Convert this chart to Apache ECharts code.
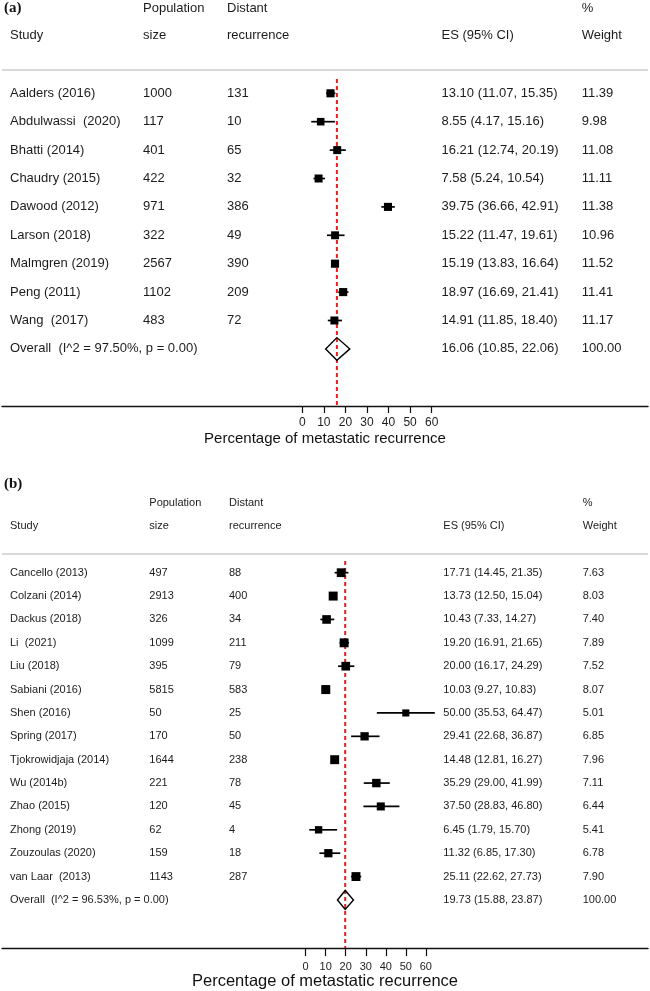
<!DOCTYPE html>
<html>
<head>
<meta charset="utf-8">
<script src="https://cdn.jsdelivr.net/npm/echarts@6/dist/echarts.min.js"></script>
<style>html,body{margin:0;padding:0;background:#fff}#c{width:650px;height:991px}</style>
</head>
<body>
<div id="c"></div>
<script>
// ---------- Panel (a) data ----------
const studiesA = ['Aalders (2016)', 'Abdulwassi  (2020)', 'Bhatti (2014)', 'Chaudry (2015)', 'Dawood (2012)', 'Larson (2018)', 'Malmgren (2019)', 'Peng (2011)', 'Wang  (2017)'];
const popA = [1000, 117, 401, 422, 971, 322, 2567, 1102, 483];
const distA = [131, 10, 65, 32, 386, 49, 390, 209, 72];
const esA = [13.10, 8.55, 16.21, 7.58, 39.75, 15.22, 15.19, 18.97, 14.91];
const loA = [11.07, 4.17, 12.74, 5.24, 36.66, 11.47, 13.83, 16.69, 11.85];
const hiA = [15.35, 15.16, 20.19, 10.54, 42.91, 19.61, 16.64, 21.41, 18.40];
const wtA = [11.39, 9.98, 11.08, 11.11, 11.38, 10.96, 11.52, 11.41, 11.17];
const overallLabelA = 'Overall  (I^2 = 97.50%, p = 0.00)';
const overallA = [16.06, 10.85, 22.06];

// ---------- Panel (b) data ----------
const studiesB = ['Cancello (2013)', 'Colzani (2014)', 'Dackus (2018)', 'Li  (2021)', 'Liu (2018)', 'Sabiani (2016)', 'Shen (2016)', 'Spring (2017)', 'Tjokrowidjaja (2014)', 'Wu (2014b)', 'Zhao (2015)', 'Zhong (2019)', 'Zouzoulas (2020)', 'van Laar  (2013)'];
const popB = [497, 2913, 326, 1099, 395, 5815, 50, 170, 1644, 221, 120, 62, 159, 1143];
const distB = [88, 400, 34, 211, 79, 583, 25, 50, 238, 78, 45, 4, 18, 287];
const esB = [17.71, 13.73, 10.43, 19.20, 20.00, 10.03, 50.00, 29.41, 14.48, 35.29, 37.50, 6.45, 11.32, 25.11];
const loB = [14.45, 12.50, 7.33, 16.91, 16.17, 9.27, 35.53, 22.68, 12.81, 29.00, 28.83, 1.79, 6.85, 22.62];
const hiB = [21.35, 15.04, 14.27, 21.65, 24.29, 10.83, 64.47, 36.87, 16.27, 41.99, 46.80, 15.70, 17.30, 27.73];
const wtB = [7.63, 8.03, 7.40, 7.89, 7.52, 8.07, 5.01, 6.85, 7.96, 7.11, 6.44, 5.41, 6.78, 7.90];
const overallLabelB = 'Overall  (I^2 = 96.53%, p = 0.00)';
const overallB = [19.73, 15.88, 23.87];

const tickValues = [0, 10, 20, 30, 40, 50, 60];
const axisTitle = 'Percentage of metastatic recurrence';
const headerRow1 = ['Population', 'Distant', '%'];
const headerRow2 = ['Study', 'size', 'recurrence', 'ES (95% CI)', 'Weight'];

// ---------- layout / style ----------
const FONT = '"Liberation Sans", Arial, Helvetica, sans-serif';
const SERIF = '"Liberation Serif", "Times New Roman", serif';
const TXT = '#1c1c1c';
const panels = [
  {
    studies: studiesA, pop: popA, dist: distA, es: esA, lo: loA, hi: hiA, wt: wtA,
    overallLabel: overallLabelA, overall: overallA,
    cols: [10, 143, 227, 441.5, 581.7], fs: 13, k: 2.4, dh: 11.3, ciW: 1.7,
    grid: { left: 2, width: 646, top: 8.1, height: 397.9 },
    xMin: -139.2, xMax: 160.3, yMin: -3, yMax: 11.011,
    tickLen: 7, labelFs: 12, labelMargin: 11, nameFs: 15, nameGap: 25,
    tag: '(a)', tagY: 8.5, h1Y: 8.5, h2Y: 35, sepY: 70
  },
  {
    studies: studiesB, pop: popB, dist: distB, es: esB, lo: loB, hi: hiB, wt: wtB,
    overallLabel: overallLabelB, overall: overallB,
    cols: [10, 149.3, 229, 443.3, 582.7], fs: 11, k: 3.17, dh: 9.5, ciW: 1.7,
    grid: { left: 2, width: 646, top: 479.2, height: 469.1 },
    xMin: -151.6, xMax: 170.9, yMin: -4, yMax: 16.06,
    tickLen: 8, labelFs: 11, labelMargin: 13, nameFs: 16.5, nameGap: 24,
    tag: '(b)', tagY: 484, h1Y: 503, h2Y: 526, sepY: 554
  }
];

function txt(s, x, y, fs, extra) {
  return Object.assign({ type: 'text', style: { text: s, x: x, y: y, fill: TXT, fontSize: fs, fontFamily: FONT, align: 'left', verticalAlign: 'middle' } }, extra || {});
}

const grids = [], xAxes = [], yAxes = [], series = [], graphics = [];
panels.forEach((p, pi) => {
  grids.push(p.grid);
  xAxes.push({
    gridIndex: pi, type: 'value', min: p.xMin, max: p.xMax,
    axisLine: { show: true, onZero: false, lineStyle: { color: '#111', width: 1.4 } },
    axisTick: { show: true, customValues: tickValues, length: p.tickLen, lineStyle: { color: '#111', width: 1.2 } },
    axisLabel: { show: true, customValues: tickValues, fontSize: p.labelFs, fontFamily: FONT, color: TXT, margin: p.labelMargin },
    splitLine: { show: false },
    name: axisTitle, nameLocation: 'middle', nameGap: p.nameGap,
    nameTextStyle: { fontSize: p.nameFs, fontFamily: FONT, color: '#111' }
  });
  yAxes.push({ gridIndex: pi, type: 'value', inverse: true, min: p.yMin, max: p.yMax, show: false, axisLine: { onZero: false } });

  const n = p.studies.length;
  // red dashed reference line at the overall estimate
  series.push({
    type: 'custom', xAxisIndex: pi, yAxisIndex: pi, z: 1, silent: true,
    data: [[p.overall[0], -0.5]],
    renderItem: function (params, api) {
      const a = api.coord([api.value(0), api.value(1)]);
      const b = api.coord([api.value(0), p.yMax]);
      return { type: 'line', shape: { x1: a[0], y1: a[1], x2: b[0], y2: b[1] }, style: { stroke: '#e3211f', lineWidth: 2, lineDash: [4, 3] } };
    }
  });
  // study rows
  series.push({
    type: 'custom', xAxisIndex: pi, yAxisIndex: pi, z: 3, silent: true,
    data: p.es.map((v, i) => [v, i, p.lo[i], p.hi[i], p.wt[i]]),
    renderItem: function (params, api) {
      const i = params.dataIndex;
      const c = api.coord([api.value(0), api.value(1)]);
      const l = api.coord([api.value(2), api.value(1)]);
      const h = api.coord([api.value(3), api.value(1)]);
      const s = p.k * Math.sqrt(api.value(4));
      const es = p.es[i], lo = p.lo[i], hi = p.hi[i];
      return {
        type: 'group', children: [
          { type: 'line', shape: { x1: l[0], y1: c[1], x2: h[0], y2: c[1] }, style: { stroke: '#000', lineWidth: p.ciW } },
          { type: 'rect', shape: { x: c[0] - s / 2, y: c[1] - s / 2, width: s, height: s }, style: { fill: '#000' } },
          txt(p.studies[i], p.cols[0], c[1], p.fs),
          txt(String(p.pop[i]), p.cols[1], c[1], p.fs),
          txt(String(p.dist[i]), p.cols[2], c[1], p.fs),
          txt(es.toFixed(2) + ' (' + lo.toFixed(2) + ', ' + hi.toFixed(2) + ')', p.cols[3], c[1], p.fs),
          txt(p.wt[i].toFixed(2), p.cols[4], c[1], p.fs)
        ]
      };
    }
  });
  // overall row
  series.push({
    type: 'custom', xAxisIndex: pi, yAxisIndex: pi, z: 2, silent: true,
    data: [[p.overall[0], n, p.overall[1], p.overall[2], 100]],
    renderItem: function (params, api) {
      const c = api.coord([api.value(0), api.value(1)]);
      const l = api.coord([api.value(2), api.value(1)]);
      const h = api.coord([api.value(3), api.value(1)]);
      const o = p.overall;
      return {
        type: 'group', children: [
          { type: 'polygon', shape: { points: [[l[0], c[1]], [c[0], c[1] - p.dh], [h[0], c[1]], [c[0], c[1] + p.dh]] }, style: { fill: 'none', stroke: '#000', lineWidth: 1.4 } },
          txt(p.overallLabel, p.cols[0], c[1], p.fs),
          txt(o[0].toFixed(2) + ' (' + o[1].toFixed(2) + ', ' + o[2].toFixed(2) + ')', p.cols[3], c[1], p.fs),
          txt(api.value(4).toFixed(2), p.cols[4], c[1], p.fs)
        ]
      };
    }
  });

  // headers
  graphics.push({ type: 'text', style: { text: p.tag, x: 4, y: p.tagY, fill: '#111', fontSize: 15, fontWeight: 'bold', fontFamily: SERIF, verticalAlign: 'middle' } });
  graphics.push(txt(headerRow1[0], p.cols[1], p.h1Y, p.fs));
  graphics.push(txt(headerRow1[1], p.cols[2], p.h1Y, p.fs));
  graphics.push(txt(headerRow1[2], p.cols[4], p.h1Y, p.fs));
  headerRow2.forEach((h, j) => graphics.push(txt(h, p.cols[j], p.h2Y, p.fs)));
  graphics.push({ type: 'line', shape: { x1: 2, y1: p.sepY, x2: 648, y2: p.sepY }, style: { stroke: '#b4b4b4', lineWidth: 1.2 } });
});

const chart = echarts.init(document.getElementById('c'), null, { renderer: 'canvas' });
chart.setOption({
  animation: false,
  backgroundColor: '#fff',
  grid: grids, xAxis: xAxes, yAxis: yAxes, series: series,
  graphic: graphics
});
</script>
</body>
</html>
